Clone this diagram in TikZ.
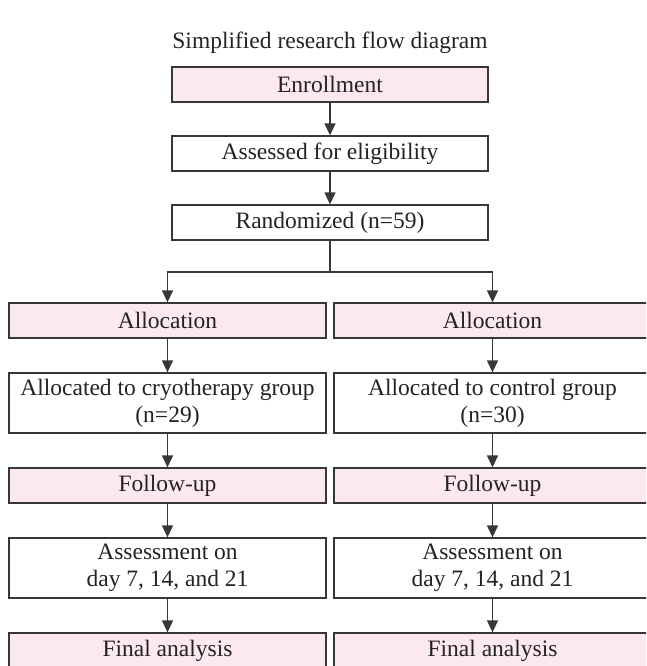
\documentclass[tikz,border=0pt]{standalone}
\usepackage{fontspec}
\setmainfont{Liberation Serif}
\usetikzlibrary{arrows.meta}
\definecolor{boxpink}{RGB}{252,232,240}
\definecolor{linegray}{RGB}{55,55,55}
\definecolor{textgray}{RGB}{35,35,35}
\tikzset{
  basebox/.style={draw=linegray, line width=1.3pt, minimum width=317pt, anchor=center,
    text=textgray, font=\fontsize{23.5}{27}\selectfont, align=center, inner sep=0pt},
  pinkbox/.style={basebox, fill=boxpink, minimum height=35pt},
  whitebox/.style={basebox, fill=white, minimum height=35pt},
  tallbox/.style={basebox, fill=white, minimum height=60pt},
  arr/.style={draw=linegray, line width=1.3pt, -{Triangle[length=12pt,width=11pt]}},
  ln/.style={draw=linegray, line width=1.3pt}
}
\begin{document}
\begin{tikzpicture}[x=1pt,y=-1pt]
\useasboundingbox (0,0) rectangle (646,666);
\clip (0,0) rectangle (646,666);
\node[text=textgray, font=\fontsize{23.5}{27}\selectfont] (title) at (330,43) {Simplified research flow diagram};
\node[pinkbox, minimum width=316pt] (enr) at (330,84.5) {Enrollment};
\node[whitebox, minimum width=316pt] (ass) at (330,153.5) {Assessed for eligibility};
\node[whitebox, minimum width=316pt] (rand) at (330,222.5) {Randomized (n=59)};
\coordinate (split) at (330,272);
\node[pinkbox] (allocL) at (167.5,320.5) {Allocation};
\node[pinkbox] (allocR) at (492.5,320.5) {Allocation};
\node[tallbox] (grpL) at (167.5,403) {Allocated to cryotherapy group\\(n=29)};
\node[tallbox] (grpR) at (492.5,403) {Allocated to control group\\(n=30)};
\node[pinkbox] (fupL) at (167.5,485.5) {Follow-up};
\node[pinkbox] (fupR) at (492.5,485.5) {Follow-up};
\node[tallbox] (asmL) at (167.5,568) {Assessment on\\day 7, 14, and 21};
\node[tallbox] (asmR) at (492.5,568) {Assessment on\\day 7, 14, and 21};
\node[pinkbox] (finL) at (167.5,650.5) {Final analysis};
\node[pinkbox] (finR) at (492.5,650.5) {Final analysis};
\draw[arr] (enr) -- (ass);
\draw[arr] (ass) -- (rand);
\draw[ln] (rand) -- (split);
\draw[arr] (split) -| (allocL);
\draw[arr] (split) -| (allocR);
\draw[arr] (allocL) -- (grpL);
\draw[arr] (allocR) -- (grpR);
\draw[arr] (grpL) -- (fupL);
\draw[arr] (grpR) -- (fupR);
\draw[arr] (fupL) -- (asmL);
\draw[arr] (fupR) -- (asmR);
\draw[arr] (asmL) -- (finL);
\draw[arr] (asmR) -- (finR);
\end{tikzpicture}
\end{document}
